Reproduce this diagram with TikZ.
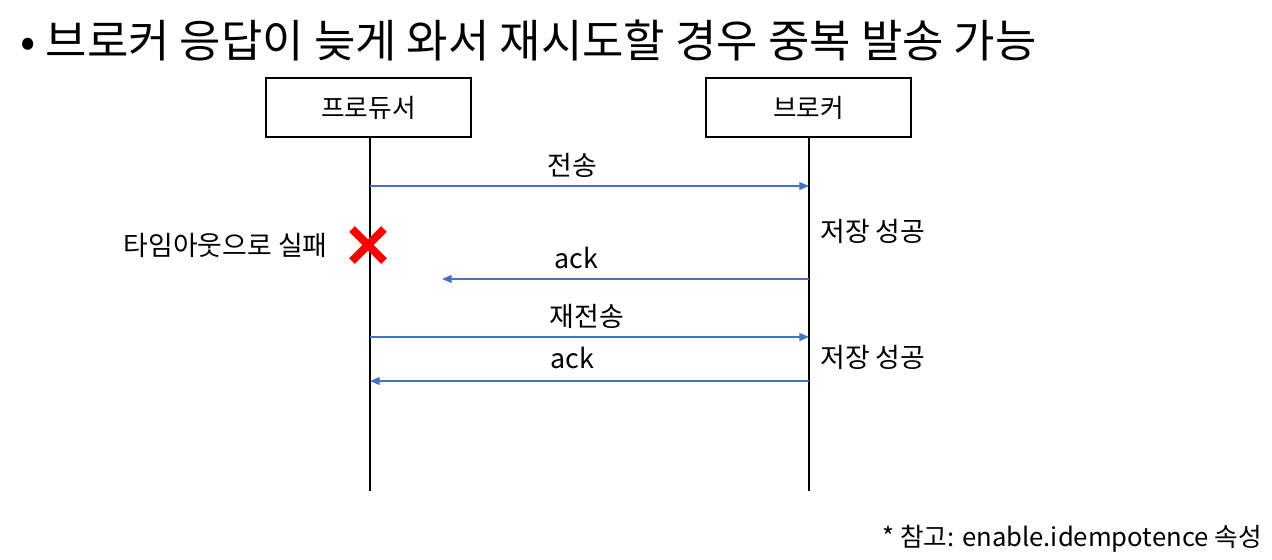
\documentclass[tikz,border=0pt]{standalone}
\usepackage{fontspec}
\setmainfont{Noto Sans CJK KR}
\usetikzlibrary{arrows.meta}
\definecolor{msgblue}{HTML}{4472C4}
\definecolor{xred}{HTML}{FF0000}
\begin{document}
\begin{tikzpicture}[x=0.02cm, y=-0.02cm, font=\fontsize{15.3}{18}\selectfont,
	actor/.style = {draw, line width=0.85pt, minimum width=205*0.02cm, minimum height=59*0.02cm, inner sep=0pt},
	life/.style = {line width=1.1pt},
	msg/.style = {draw=msgblue, line width=0.7pt, -{Triangle[length=5.5pt, width=4.5pt]}},
	lbl/.style = {inner sep=0pt}]
	\useasboundingbox (0,0) rectangle (1272,559);
	% title
	\node (T) at (20, 40)	[anchor=west, inner sep=0pt, font=\fontsize{25.6}{30}\selectfont]	{• 브로커 응답이 늦게 와서 재시도할 경우 중복 발송 가능};
	% actors
	\node (P) at (368.5, 107.5)	[actor, font=\fontsize{14.6}{18}\selectfont]	{프로듀서};
	\node (B) at (808.5, 107.5)	[actor, font=\fontsize{14.6}{18}\selectfont]	{브로커};
	\coordinate (Pend) at (370, 491);
	\coordinate (Bend) at (809, 491);
	\draw[life] (P.south -| Pend) -- (Pend);
	\draw[life] (B.south -| Bend) -- (Bend);
	% message points
	\coordinate (P1) at (370, 186);	\coordinate (B1) at (809, 186);
	\coordinate (B2) at (809, 279);	\coordinate (A2) at (442, 279);
	\coordinate (P3) at (370, 337);	\coordinate (B3) at (809, 337);
	\coordinate (B4) at (809, 381);	\coordinate (P4) at (370, 381);
	\draw[msg] (P1) -- (B1);
	\draw[msg] (B2) -- (A2);
	\draw[msg] (P3) -- (B3);
	\draw[msg] (B4) -- (P4);
	% labels
	\node (L1) at (572, 165)	[lbl]	{전송};
	\node (L2) at (576, 258)	[lbl]	{ack};
	\node (L3) at (587, 316)	[lbl]	{재전송};
	\node (L4) at (572, 358)	[lbl]	{ack};
	\node (S1) at (820, 231)	[lbl, anchor=west]	{저장 성공};
	\node (S2) at (820, 357)	[lbl, anchor=west]	{저장 성공};
	\node (F) at (328, 245)	[lbl, anchor=east]	{타임아웃으로 실패};
	% failure mark
	\coordinate (X) at (368, 245);
	\draw[xred, line width=4.6pt] ([shift={(-16,-16)}]X) -- ([shift={(16,16)}]X);
	\draw[xred, line width=4.6pt] ([shift={(-16,16)}]X) -- ([shift={(16,-16)}]X);
	% note
	\node (N) at (1262, 539)	[lbl, anchor=east, font=\fontsize{14.6}{18}\selectfont]	{* 참고: enable.idempotence 속성};
\end{tikzpicture}
\end{document}
